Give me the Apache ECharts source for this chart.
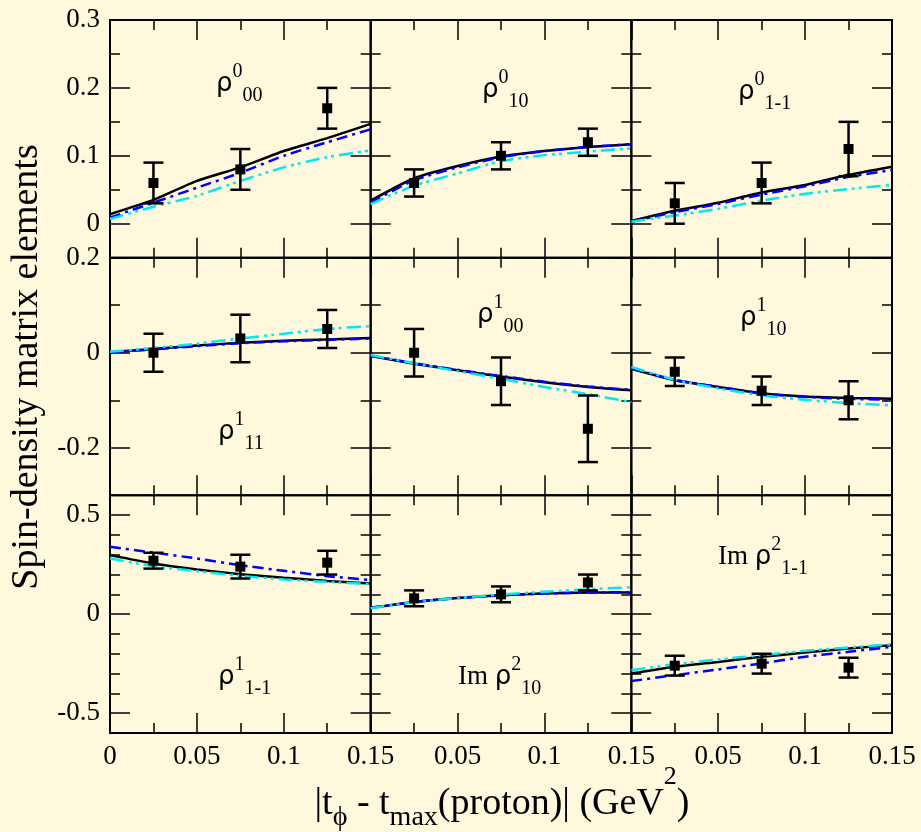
<!DOCTYPE html>
<html>
<head>
<meta charset="utf-8">
<script src="https://cdn.jsdelivr.net/npm/echarts@6/dist/echarts.min.js"></script>
<style>
html, body { margin: 0; padding: 0; background: #fff8dc; }
#chart { width: 921px; height: 832px; }
</style>
</head>
<body>
<div id="chart"></div>
<script>
// x values of the measured points and of the model curves
const tData = [0.025, 0.075, 0.125];
const tModel = [0, 0.025, 0.05, 0.075, 0.1, 0.125, 0.15];
const xMajor = [0, 0.05, 0.1, 0.15];
const xMinor = [0.025, 0.075, 0.125];

// y ranges and ticks per row
const yMin = [-0.05, -0.3, -0.6];
const yMax = [0.3, 0.2, 0.6];
const yMajor = [[0, 0.1, 0.2, 0.3], [-0.2, 0, 0.2], [-0.5, 0, 0.5]];
const yMinor = [[0.05, 0.15, 0.25], [-0.1, 0.1], [-0.4, -0.3, -0.2, -0.1, 0.1, 0.2, 0.3, 0.4]];

// rho0_00
const r0_00Val = [0.06, 0.08, 0.17];
const r0_00Err = [0.03, 0.03, 0.03];
const r0_00Solid = [0.014, 0.035, 0.063, 0.083, 0.107, 0.126, 0.147];
const r0_00DashDot = [0.009, 0.031, 0.053, 0.075, 0.1, 0.12, 0.139];
const r0_00DashDotDot = [0.007, 0.025, 0.041, 0.063, 0.083, 0.098, 0.108];
// rho0_10
const r0_10Val = [0.06, 0.10, 0.12];
const r0_10Err = [0.02, 0.02, 0.02];
const r0_10Solid = [0.034, 0.067, 0.085, 0.099, 0.107, 0.113, 0.117];
const r0_10DashDot = [0.031, 0.064, 0.083, 0.098, 0.107, 0.113, 0.117];
const r0_10DashDotDot = [0.029, 0.056, 0.074, 0.092, 0.101, 0.106, 0.111];
// rho0_1-1
const r0_1m1Val = [0.03, 0.06, 0.11];
const r0_1m1Err = [0.03, 0.03, 0.04];
const r0_1m1Solid = [0.004, 0.019, 0.031, 0.046, 0.057, 0.072, 0.084];
const r0_1m1DashDot = [0.003, 0.017, 0.029, 0.043, 0.055, 0.069, 0.079];
const r0_1m1DashDotDot = [0.003, 0.012, 0.022, 0.034, 0.044, 0.051, 0.057];
// rho1_11
const r1_11Val = [0.0, 0.03, 0.05];
const r1_11Err = [0.04, 0.05, 0.04];
const r1_11Solid = [0.001, 0.008, 0.015, 0.021, 0.025, 0.028, 0.031];
const r1_11DashDot = [0.001, 0.007, 0.014, 0.02, 0.024, 0.027, 0.03];
const r1_11DashDotDot = [0.002, 0.01, 0.019, 0.03, 0.04, 0.05, 0.056];
// rho1_00
const r1_00Val = [0.0, -0.06, -0.16];
const r1_00Err = [0.05, 0.05, 0.07];
const r1_00Solid = [-0.007, -0.023, -0.037, -0.05, -0.062, -0.072, -0.079];
const r1_00DashDot = [-0.006, -0.022, -0.036, -0.049, -0.061, -0.071, -0.078];
const r1_00DashDotDot = [-0.005, -0.022, -0.039, -0.055, -0.072, -0.087, -0.104];
// rho1_10
const r1_10Val = [-0.04, -0.08, -0.10];
const r1_10Err = [0.03, 0.03, 0.04];
const r1_10Solid = [-0.034, -0.058, -0.072, -0.085, -0.092, -0.095, -0.097];
const r1_10DashDot = [-0.033, -0.057, -0.072, -0.086, -0.093, -0.097, -0.099];
const r1_10DashDotDot = [-0.03, -0.057, -0.075, -0.09, -0.099, -0.106, -0.111];
// rho1_1-1
const r1_1m1Val = [0.27, 0.24, 0.26];
const r1_1m1Err = [0.04, 0.06, 0.06];
const r1_1m1Solid = [0.298, 0.256, 0.226, 0.202, 0.184, 0.168, 0.155];
const r1_1m1DashDot = [0.34, 0.311, 0.281, 0.247, 0.219, 0.192, 0.172];
const r1_1m1DashDotDot = [0.281, 0.242, 0.217, 0.194, 0.175, 0.163, 0.152];
// Im rho2_10
const im2_10Val = [0.08, 0.10, 0.16];
const im2_10Err = [0.04, 0.04, 0.04];
const im2_10Solid = [0.032, 0.062, 0.082, 0.096, 0.104, 0.109, 0.11];
const im2_10DashDot = [0.032, 0.061, 0.081, 0.095, 0.104, 0.109, 0.111];
const im2_10DashDotDot = [0.03, 0.06, 0.082, 0.099, 0.113, 0.126, 0.135];
// Im rho2_1-1
const im2_1m1Val = [-0.26, -0.25, -0.27];
const im2_1m1Err = [0.05, 0.05, 0.05];
const im2_1m1Solid = [-0.30, -0.266, -0.241, -0.215, -0.194, -0.173, -0.157];
const im2_1m1DashDot = [-0.338, -0.308, -0.279, -0.249, -0.215, -0.19, -0.165];
const im2_1m1DashDotDot = [-0.283, -0.253, -0.229, -0.207, -0.185, -0.168, -0.152];

const panels = [
  { val: r0_00Val, err: r0_00Err, solid: r0_00Solid, dd: r0_00DashDot, ddd: r0_00DashDotDot },
  { val: r0_10Val, err: r0_10Err, solid: r0_10Solid, dd: r0_10DashDot, ddd: r0_10DashDotDot },
  { val: r0_1m1Val, err: r0_1m1Err, solid: r0_1m1Solid, dd: r0_1m1DashDot, ddd: r0_1m1DashDotDot },
  { val: r1_11Val, err: r1_11Err, solid: r1_11Solid, dd: r1_11DashDot, ddd: r1_11DashDotDot },
  { val: r1_00Val, err: r1_00Err, solid: r1_00Solid, dd: r1_00DashDot, ddd: r1_00DashDotDot },
  { val: r1_10Val, err: r1_10Err, solid: r1_10Solid, dd: r1_10DashDot, ddd: r1_10DashDotDot },
  { val: r1_1m1Val, err: r1_1m1Err, solid: r1_1m1Solid, dd: r1_1m1DashDot, ddd: r1_1m1DashDotDot },
  { val: im2_10Val, err: im2_10Err, solid: im2_10Solid, dd: im2_10DashDot, ddd: im2_10DashDotDot },
  { val: im2_1m1Val, err: im2_1m1Err, solid: im2_1m1Solid, dd: im2_1m1DashDot, ddd: im2_1m1DashDotDot }
];

// panel names (rich text), placed at left x / middle y
const panelLabels = [
  { x: 216, y: 84, text: '{r|ρ}{sup|0}{sub|00}' },
  { x: 482, y: 90, text: '{r|ρ}{sup|0}{sub|10}' },
  { x: 738, y: 92, text: '{r|ρ}{sup|0}{sub|1-1}' },
  { x: 218, y: 432, text: '{r|ρ}{sup|1}{sub|11}' },
  { x: 477, y: 315, text: '{r|ρ}{sup|1}{sub|00}' },
  { x: 740, y: 318, text: '{r|ρ}{sup|1}{sub|10}' },
  { x: 218, y: 677, text: '{r|ρ}{sup|1}{sub|1-1}' },
  { x: 458, y: 677, text: '{im|Im }{r|ρ}{sup|2}{sub|10}' },
  { x: 718, y: 557, text: '{im|Im }{r|ρ}{sup|2}{sub|1-1}' }
];

const serif = 'Liberation Serif, DejaVu Serif, serif';
const left0 = 110, top0 = 20, cellW = 782 / 3, cellH = 713 / 3;
const tickLine = { color: '#000', width: 1.5 };
const tickFont = { color: '#000', fontFamily: serif, fontSize: 27 };

const grids = [], xAxes = [], yAxes = [], series = [];

panels.forEach((p, g) => {
  const row = Math.floor(g / 3), col = g % 3;
  grids.push({
    left: left0 + col * cellW, top: top0 + row * cellH, width: cellW, height: cellH,
    show: true, borderColor: '#000', borderWidth: 2, backgroundColor: 'transparent',
    outerBoundsMode: 'none'
  });
  const xb = { gridIndex: g, type: 'value', min: 0, max: 0.15,
    axisLine: { show: false, onZero: false }, splitLine: { show: false } };
  xAxes.push(
    { ...xb, position: 'bottom',
      axisTick: { inside: true, length: 20, customValues: xMajor, lineStyle: tickLine },
      axisLabel: { show: row === 2, customValues: col === 0 ? xMajor : xMajor.slice(1), margin: 10, ...tickFont } },
    { ...xb, position: 'bottom',
      axisTick: { inside: true, length: 10, customValues: xMinor, lineStyle: tickLine }, axisLabel: { show: false } },
    { ...xb, position: 'top',
      axisTick: { inside: true, length: 20, customValues: xMajor, lineStyle: tickLine }, axisLabel: { show: false } },
    { ...xb, position: 'top',
      axisTick: { inside: true, length: 10, customValues: xMinor, lineStyle: tickLine }, axisLabel: { show: false } }
  );
  const yb = { gridIndex: g, type: 'value', min: yMin[row], max: yMax[row],
    axisLine: { show: false, onZero: false }, splitLine: { show: false } };
  yAxes.push(
    { ...yb, position: 'left',
      axisTick: { inside: true, length: 20, customValues: yMajor[row], lineStyle: tickLine },
      axisLabel: { show: col === 0, customValues: yMajor[row], margin: 10, ...tickFont } },
    { ...yb, position: 'left',
      axisTick: { inside: true, length: 10, customValues: yMinor[row], lineStyle: tickLine }, axisLabel: { show: false } },
    { ...yb, position: 'right',
      axisTick: { inside: true, length: 20, customValues: yMajor[row], lineStyle: tickLine }, axisLabel: { show: false } },
    { ...yb, position: 'right',
      axisTick: { inside: true, length: 10, customValues: yMinor[row], lineStyle: tickLine }, axisLabel: { show: false } }
  );

  const ax = { xAxisIndex: g * 4, yAxisIndex: g * 4 };
  const curve = (vals, color, type, z) => ({
    type: 'line', ...ax, data: tModel.map((t, i) => [t, vals[i]]),
    symbol: 'none', smooth: 0.2, silent: true, z: z,
    lineStyle: { color: color, width: 2.5, type: type }
  });
  series.push(curve(p.solid, '#000000', 'solid', 3));
  series.push(curve(p.dd, '#0000ff', [11, 5, 3, 5], 3));
  series.push(curve(p.ddd, '#00e8f0', [14, 5, 3, 4, 3, 5], 3));

  series.push({
    type: 'custom', ...ax, z: 5, silent: true,
    data: tData.map((t, i) => [t, p.val[i] - p.err[i], p.val[i] + p.err[i]]),
    encode: { x: 0, y: [1, 2] },
    renderItem: (params, api) => {
      const x = api.value(0);
      const lo = api.coord([x, api.value(1)]);
      const hi = api.coord([x, api.value(2)]);
      const hw = 10;
      const st = { stroke: '#000', lineWidth: 2.5 };
      return {
        type: 'group',
        children: [
          { type: 'line', shape: { x1: lo[0], y1: lo[1], x2: hi[0], y2: hi[1] }, style: st },
          { type: 'line', shape: { x1: lo[0] - hw, y1: lo[1], x2: lo[0] + hw, y2: lo[1] }, style: st },
          { type: 'line', shape: { x1: hi[0] - hw, y1: hi[1], x2: hi[0] + hw, y2: hi[1] }, style: st }
        ]
      };
    }
  });
  series.push({
    type: 'scatter', ...ax, z: 6, silent: true,
    data: tData.map((t, i) => [t, p.val[i]]),
    symbol: 'rect', symbolSize: 10, itemStyle: { color: '#000', opacity: 1 }
  });
});

const labelRich = {
  r: { fontFamily: 'DejaVu Sans, sans-serif', fontSize: 26, lineHeight: 44, color: '#000' },
  im: { fontFamily: serif, fontSize: 27, lineHeight: 44, color: '#000' },
  sup: { fontFamily: serif, fontSize: 20, verticalAlign: 'top', color: '#000' },
  sub: { fontFamily: serif, fontSize: 20, verticalAlign: 'bottom', color: '#000' }
};

const graphic = panelLabels.map(l => ({
  type: 'text', x: l.x, y: l.y, z: 10, silent: true,
  style: { text: l.text, rich: labelRich, align: 'left', verticalAlign: 'middle' }
}));

graphic.push({
  type: 'text', x: 27, y: 367, rotation: Math.PI / 2, silent: true,
  style: { text: 'Spin-density matrix elements', fontFamily: serif, fontSize: 38,
    fill: '#000', align: 'center', verticalAlign: 'middle' }
});

graphic.push({
  type: 'text', x: 502, y: 804, silent: true,
  style: {
    text: '{m||t}{s|ϕ}{m| - t}{s|max}{m|(proton)| (GeV}{p|2}{m|)}',
    align: 'center', verticalAlign: 'middle',
    rich: {
      m: { fontFamily: serif, fontSize: 38, lineHeight: 80, color: '#000' },
      s: { fontFamily: serif, fontSize: 28, padding: [0, 0, 12, 0], verticalAlign: 'bottom', color: '#000' },
      p: { fontFamily: serif, fontSize: 26, verticalAlign: 'top', color: '#000' }
    }
  }
});

const chart = echarts.init(document.getElementById('chart'));
chart.setOption({
  backgroundColor: '#fff8dc',
  animation: false,
  grid: grids,
  xAxis: xAxes,
  yAxis: yAxes,
  series: series,
  graphic: graphic
});
</script>
</body>
</html>
